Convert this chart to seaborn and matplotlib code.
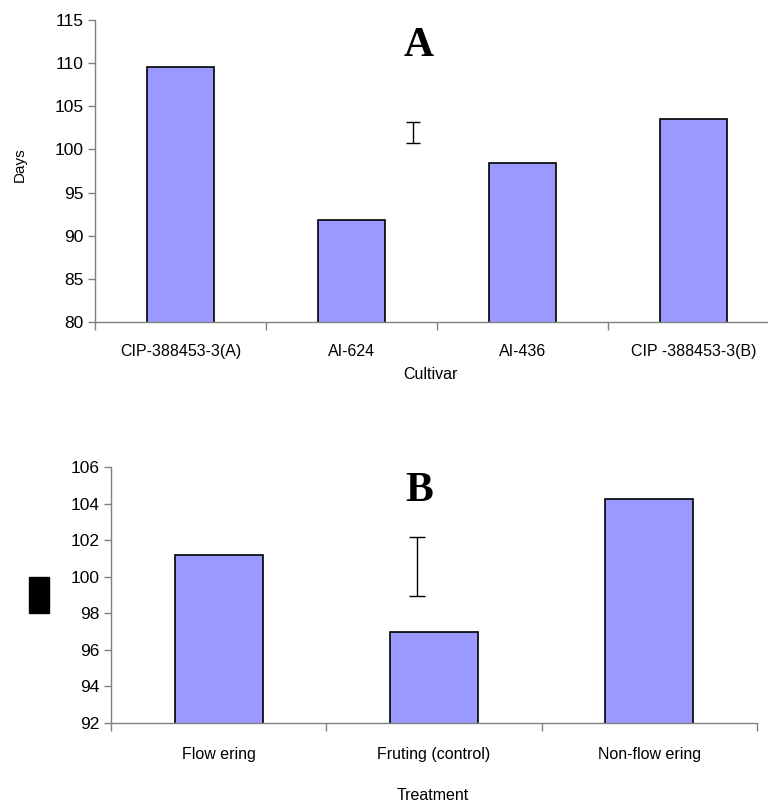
import numpy as np
import pandas as pd
import matplotlib
matplotlib.use('Agg')
import matplotlib.pyplot as plt
import seaborn as sns
from matplotlib.patches import Rectangle

sns.set_style('white')
plt.rcParams['font.family'] = ['Liberation Sans', 'DejaVu Sans']
plt.rcParams.update({'text.color': 'black', 'axes.labelcolor': 'black',
                     'xtick.color': 'black', 'ytick.color': 'black'})

# Panel A: days per cultivar
cultivars = ['CIP-388453-3(A)', 'AI-624', 'AI-436', 'CIP -388453-3(B)']
days_a = [109.5, 91.8, 98.4, 103.5]
lsd_a_center = 102.0
lsd_a_half = 1.2

# Panel B: days per treatment
treatments = ['Flow ering', 'Fruting (control)', 'Non-flow ering']
days_b = [101.2, 97.0, 104.25]
lsd_b_center = 100.55
lsd_b_half = 1.6

bar_color = '#9999FF'
spine_color = '#808080'

fig = plt.figure(figsize=(7.68, 8.07), dpi=100)


def style_axis(ax, n, ymin, ymax, ystep):
    ax.set_xlim(-0.5, n - 0.5)
    ax.set_ylim(ymin, ymax)
    ax.set_yticks(np.arange(ymin, ymax + 0.1, ystep))
    ax.set_xticks(np.arange(n))
    ax.set_xticks(np.arange(n + 1) - 0.5, minor=True)
    ax.tick_params(axis='x', which='major', bottom=True, length=0, pad=16,
                   labelsize=11.5, labelcolor='black')
    ax.tick_params(axis='x', which='minor', bottom=True, length=6, width=1,
                   color=spine_color, direction='out')
    ax.tick_params(axis='y', left=True, length=5, width=1, color=spine_color,
                   direction='out', labelsize=12.5, pad=3, labelcolor='black')
    for side in ['top', 'right']:
        ax.spines[side].set_visible(False)
    for side in ['left', 'bottom']:
        ax.spines[side].set_color(spine_color)
        ax.spines[side].set_linewidth(1)
    ax.grid(False)


# ---- Panel A ----
ax1 = fig.add_axes([95 / 768, 1 - 322 / 807, 684 / 768, 302 / 807])
df_a = pd.DataFrame({'Cultivar': cultivars, 'Days': days_a})
sns.barplot(data=df_a, x='Cultivar', y='Days', ax=ax1, color=bar_color,
            saturation=1, width=0.39, edgecolor='black', linewidth=1.2)
style_axis(ax1, len(cultivars), 80, 115, 5)
ax1.errorbar([1.36], [lsd_a_center], yerr=[lsd_a_half], fmt='none',
             ecolor='black', elinewidth=1, capsize=5, capthick=1)
ax1.text(1.39, 112.0, 'A', fontsize=30, fontweight='bold', family='Liberation Serif',
         ha='center', va='center', color='black')
ax1.set_ylabel('Days', fontsize=11)
ax1.yaxis.set_label_coords(-0.1, 0.52)
ax1.set_xlabel('Cultivar', fontsize=11.5)
ax1.xaxis.set_label_coords(0.491, -0.148)

# ---- Panel B ----
ax2 = fig.add_axes([111 / 768, 1 - 723 / 807, 646 / 768, 256 / 807])
df_b = pd.DataFrame({'Treatment': treatments, 'Days': days_b})
sns.barplot(data=df_b, x='Treatment', y='Days', ax=ax2, color=bar_color,
            saturation=1, width=0.41, edgecolor='black', linewidth=1.2)
style_axis(ax2, len(treatments), 92, 106, 2)
ax2.errorbar([0.92], [lsd_b_center], yerr=[lsd_b_half], fmt='none',
             ecolor='black', elinewidth=1, capsize=5.5, capthick=1)
ax2.text(0.93, 104.7, 'B', fontsize=30, fontweight='bold', family='Liberation Serif',
         ha='center', va='center', color='black')
ax2.set_ylabel('')
ax2.tick_params(axis='x', which='major', pad=17)
ax2.set_xlabel('Treatment', fontsize=11.5)
ax2.xaxis.set_label_coords(0.498, -0.255)

# black box covering the y-label of panel B
fig.add_artist(Rectangle((29 / 768, 1 - 613 / 807), 20 / 768, 36 / 807,
                         transform=fig.transFigure, color='black'))

fig.savefig('out.png', dpi=100)
